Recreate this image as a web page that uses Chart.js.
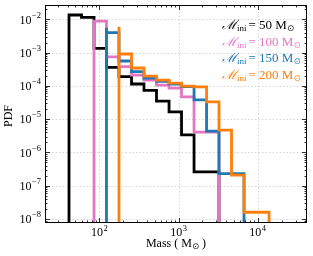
<!DOCTYPE html>
<html>
<head>
<meta charset="utf-8">
<script src="https://cdn.jsdelivr.net/npm/chart.js@4.4.0/dist/chart.umd.min.js"></script>
<style>
  html, body { margin: 0; padding: 0; background: #fff; }
  #wrap { width: 313px; height: 256px; }
</style>
</head>
<body>
<div id="wrap"><canvas id="pdfChart"></canvas></div>
<script>
// log-spaced mass bin edges (Msun)
const binEdges = [41.4, 59.6, 85.7, 123, 177, 255, 366, 527, 759, 1091, 1570, 2259, 3243, 4667, 6714, 9661, 13900];

// initial masses and the index of each run's first bin
const initMasses = [50, 100, 150, 200];
const firstBin = [0, 2, 3, 4];

// PDF per bin
const pdf50  = [1.5e-3, 1.35e-2, 1.15e-2, 1.35e-3, 3.6e-4, 1.9e-4, 1.14e-4, 7.3e-5, 3.5e-5, 1.65e-5, 3.4e-6, 2.6e-7];
const pdf100 = [7.5e-3, 8.9e-3, 7.5e-4, 3.8e-4, 2.1e-4, 1.5e-4, 1.06e-4, 8.6e-5, 4.7e-5, 4.1e-6];
const pdf150 = [5.6e-3, 4.0e-3, 5.6e-4, 2.7e-4, 1.73e-4, 1.36e-4, 1.14e-4, 9.6e-5, 3.8e-5, 4.4e-6, 2.3e-7];
const pdf200 = [6.0e-3, 9.1e-4, 3.45e-4, 1.98e-4, 1.5e-4, 1.22e-4, 9.9e-5, 9.3e-5, 3.3e-5, 4.7e-6, 2.1e-7, 1.6e-8];

const colors = ["#000000", "#e377c2", "#1f77b4", "#ff7f0e"];

// axis limits and labelled decades
const xMin = 20.6, xMax = 41900;
const yMin = 7.6e-9, yMax = 0.027;
const xDecades = [1e2, 1e3, 1e4];
const yDecades = [1e-8, 1e-7, 1e-6, 1e-5, 1e-4, 1e-3, 1e-2];

const FLOOR = 1e-12; // below the axis, so the outer edges drop off the plot

// turn bin values into a closed step outline
function stepPoints(start, vals) {
  const pts = [{ x: binEdges[start], y: FLOOR }];
  vals.forEach((v, k) => pts.push({ x: binEdges[start + k], y: v }));
  const end = binEdges[start + vals.length];
  pts.push({ x: end, y: vals[vals.length - 1] });
  pts.push({ x: end, y: FLOOR });
  return pts;
}

function minorTicks(lo, hi) {
  const out = [];
  for (let e = Math.floor(Math.log10(lo)); e <= Math.ceil(Math.log10(hi)); e++) {
    for (let k = 2; k <= 9; k++) {
      const v = k * Math.pow(10, e);
      if (v > lo && v < hi) out.push(v);
    }
  }
  return out;
}

const allPdf = [pdf50, pdf100, pdf150, pdf200];
const datasets = allPdf.map((vals, i) => ({
  label: "M_ini = " + initMasses[i],
  data: stepPoints(firstBin[i], vals),
  borderColor: colors[i],
  borderWidth: 2.8,
  stepped: "after",
  pointRadius: 0,
  fill: false,
  borderJoinStyle: "miter",
  order: 3 - i
}));

const SERIF = "'Liberation Serif', 'DejaVu Serif', serif";

function drawPow(ctx, exp, x, y, align) {
  const base = "10", sup = (exp < 0 ? "\u2212" : "") + Math.abs(exp);
  ctx.font = "12px " + SERIF;
  const wb = ctx.measureText(base).width;
  ctx.font = "8.5px " + SERIF;
  const ws = ctx.measureText(sup).width;
  const total = wb + ws + 0.5;
  let sx = align === "right" ? x - total : x - total / 2;
  ctx.textAlign = "left";
  ctx.font = "12px " + SERIF;
  ctx.fillText(base, sx, y);
  ctx.font = "8.5px " + SERIF;
  ctx.fillText(sup, sx + wb + 0.5, y - 5);
}

const axesDeco = {
  id: "axesDeco",
  beforeDatasetsDraw(chart) {
    const { ctx, chartArea: a, scales: { x, y } } = chart;
    ctx.save();
    ctx.strokeStyle = "#cccccc";
    ctx.lineWidth = 0.8;
    ctx.setLineDash([1.5, 2]);
    ctx.beginPath();
    xDecades.forEach(v => {
      const px = Math.round(x.getPixelForValue(v)) + 0.5;
      ctx.moveTo(px, a.top); ctx.lineTo(px, a.bottom);
    });
    yDecades.forEach(v => {
      const py = Math.round(y.getPixelForValue(v)) + 0.5;
      ctx.moveTo(a.left, py); ctx.lineTo(a.right, py);
    });
    ctx.stroke();
    ctx.restore();
  },
  afterDraw(chart) {
    const { ctx, chartArea: a, scales: { x, y } } = chart;
    ctx.save();
    // frame
    ctx.strokeStyle = "#000";
    ctx.lineWidth = 1;
    ctx.strokeRect(a.left + 0.5, a.top + 0.5, a.right - a.left - 1, a.bottom - a.top - 1);

    // inward ticks on every side
    ctx.lineWidth = 0.8;
    ctx.beginPath();
    const xt = xDecades.map(v => [v, 5]).concat(minorTicks(xMin, xMax).map(v => [v, 2.5]));
    xt.forEach(([v, len]) => {
      const px = Math.round(x.getPixelForValue(v)) + 0.5;
      ctx.moveTo(px, a.bottom); ctx.lineTo(px, a.bottom - len);
      ctx.moveTo(px, a.top); ctx.lineTo(px, a.top + len);
    });
    const yt = yDecades.map(v => [v, 5]).concat(minorTicks(yMin, yMax).map(v => [v, 2.5]));
    yt.forEach(([v, len]) => {
      const py = Math.round(y.getPixelForValue(v)) + 0.5;
      ctx.moveTo(a.left, py); ctx.lineTo(a.left + len, py);
      ctx.moveTo(a.right, py); ctx.lineTo(a.right - len, py);
    });
    ctx.stroke();

    // tick labels
    ctx.fillStyle = "#000";
    ctx.textBaseline = "middle";
    yDecades.forEach(v => {
      drawPow(ctx, Math.round(Math.log10(v)), a.left - 4, y.getPixelForValue(v) + 1, "right");
    });
    ctx.textBaseline = "alphabetic";
    xDecades.forEach(v => {
      drawPow(ctx, Math.round(Math.log10(v)), x.getPixelForValue(v), a.bottom + 13, "center");
    });

    // axis titles
    ctx.font = "12px " + SERIF;
    ctx.textAlign = "left";
    const t1 = "Mass ( M", t3 = " )";
    const w1 = ctx.measureText(t1).width;
    ctx.font = "8.5px 'DejaVu Sans', sans-serif";
    const w2 = ctx.measureText("\u2299").width;
    ctx.font = "12px " + SERIF;
    const w3 = ctx.measureText(t3).width;
    let tx = (a.left + a.right) / 2 - (w1 + w2 + w3) / 2;
    const ty = 247;
    ctx.fillText(t1, tx, ty);
    ctx.font = "8.5px 'DejaVu Sans', sans-serif";
    ctx.fillText("\u2299", tx + w1, ty + 2);
    ctx.font = "12px " + SERIF;
    ctx.fillText(t3, tx + w1 + w2, ty);

    ctx.save();
    ctx.translate(9, (a.top + a.bottom) / 2 + 2);
    ctx.rotate(-Math.PI / 2);
    ctx.textAlign = "center";
    ctx.textBaseline = "middle";
    ctx.fillText("PDF", 0, 0);
    ctx.restore();

    // legend: text only, coloured like its line
    initMasses.forEach((m, i) => {
      let lx = 222;
      const ly = 29 + i * 16.7;
      ctx.fillStyle = colors[i];
      ctx.textAlign = "left";
      ctx.textBaseline = "alphabetic";
      ctx.font = "italic 13px " + SERIF;
      ctx.fillText("\u2133", lx, ly);
      lx += ctx.measureText("\u2133").width;
      ctx.font = "9px " + SERIF;
      ctx.fillText("ini", lx, ly + 2);
      lx += ctx.measureText("ini").width + 2;
      ctx.font = "13px " + SERIF;
      const s = "= " + m + " M";
      ctx.fillText(s, lx, ly);
      lx += ctx.measureText(s).width;
      ctx.font = "8.5px 'DejaVu Sans', sans-serif";
      ctx.fillText("\u2299", lx, ly + 2);
    });
    ctx.restore();
  }
};

new Chart(document.getElementById("pdfChart").getContext("2d"), {
  type: "line",
  data: { datasets },
  options: {
    responsive: true,
    maintainAspectRatio: false,
    animation: false,
    layout: { padding: { left: 45, right: 6, top: 5, bottom: 33 } },
    plugins: { legend: { display: false }, tooltip: { enabled: false } },
    scales: {
      x: { type: "logarithmic", min: xMin, max: xMax, display: false },
      y: { type: "logarithmic", min: yMin, max: yMax, display: false }
    }
  },
  plugins: [axesDeco]
});
</script>
</body>
</html>
